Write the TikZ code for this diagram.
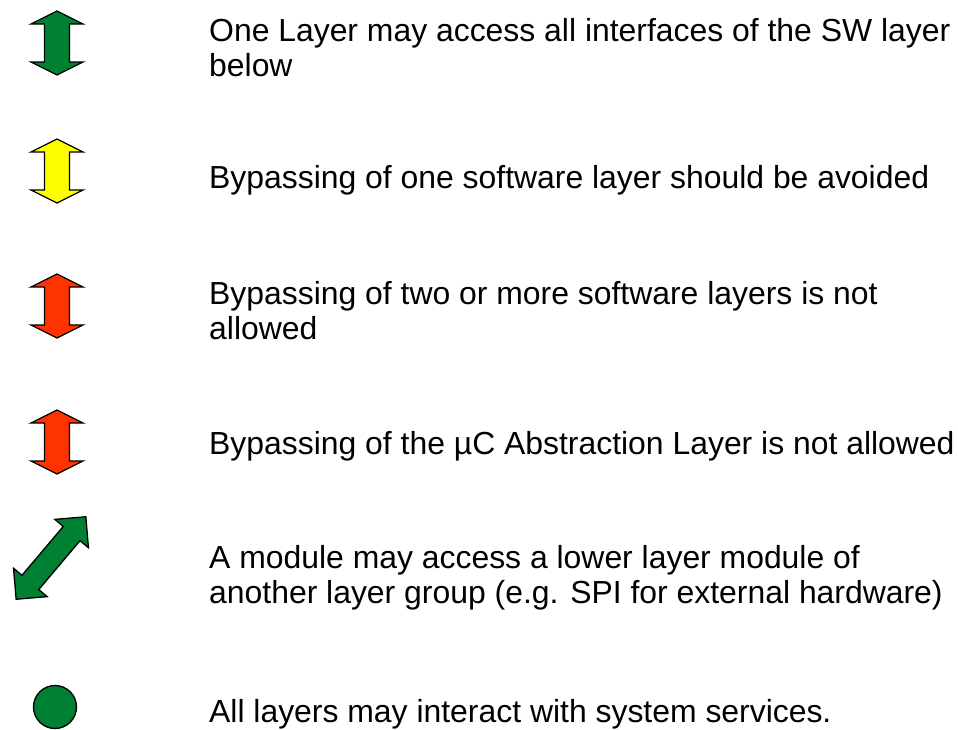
\documentclass[tikz,border=0pt]{standalone}
\usepackage{fontspec}
\setmainfont{Liberation Sans}
\definecolor{agreen}{RGB}{0,128,51}
\definecolor{ayellow}{RGB}{255,255,0}
\definecolor{ared}{RGB}{255,51,0}
\tikzset{
  arrowshape/.style={draw=black, line width=1.3pt, line join=miter},
  legendtext/.style={anchor=base west, inner sep=0pt, font=\fontsize{31.9}{36}\selectfont}
}
% vertical double arrow: #1 colour, #2 top y
\newcommand\vdarrow[2]{%
  \fill[#1, arrowshape] (57,#2) -- (83,#2+13) -- (69.5,#2+13) -- (69.5,#2+51) -- (83,#2+51)
    -- (57,#2+64) -- (31,#2+51) -- (44.5,#2+51) -- (44.5,#2+13) -- (31,#2+13) -- cycle;}
\begin{document}
\begin{tikzpicture}[x=1pt,y=-1pt]
\useasboundingbox (0,0) rectangle (958,729);
\vdarrow{agreen}{11}
\vdarrow{ayellow}{139}
\vdarrow{ared}{274}
\vdarrow{ared}{410}
\begin{scope}[shift={(51,558)}, rotate=49.8]
  \fill[agreen, arrowshape] (54,0) -- (32,22) -- (32,11) -- (-32,11) -- (-32,22) -- (-54,0)
    -- (-32,-22) -- (-32,-11) -- (32,-11) -- (32,-22) -- cycle;
\end{scope}
\fill[agreen, arrowshape] (55,707) circle (21.5);
\node[legendtext] (t1) at (209,41) {One Layer may access all interfaces of the SW layer};
\node[legendtext] (t1b) at (209,76) {below};
\node[legendtext] (t2) at (209,188) {Bypassing of one software layer should be avoided};
\node[legendtext] (t3) at (209,304) {Bypassing of two or more software layers is not};
\node[legendtext] (t3b) at (209,339) {allowed};
\node[legendtext] (t4) at (209,454) {Bypassing of the µC Abstraction Layer is not allowed};
\node[legendtext] (t5) at (209,568) {A module may access a lower layer module of};
\node[legendtext] (t5b) at (209,603) {another layer group (e.g. SPI for external hardware)};
\node[legendtext] (t6) at (209,722) {All layers may interact with system services.};
\end{tikzpicture}
\end{document}
